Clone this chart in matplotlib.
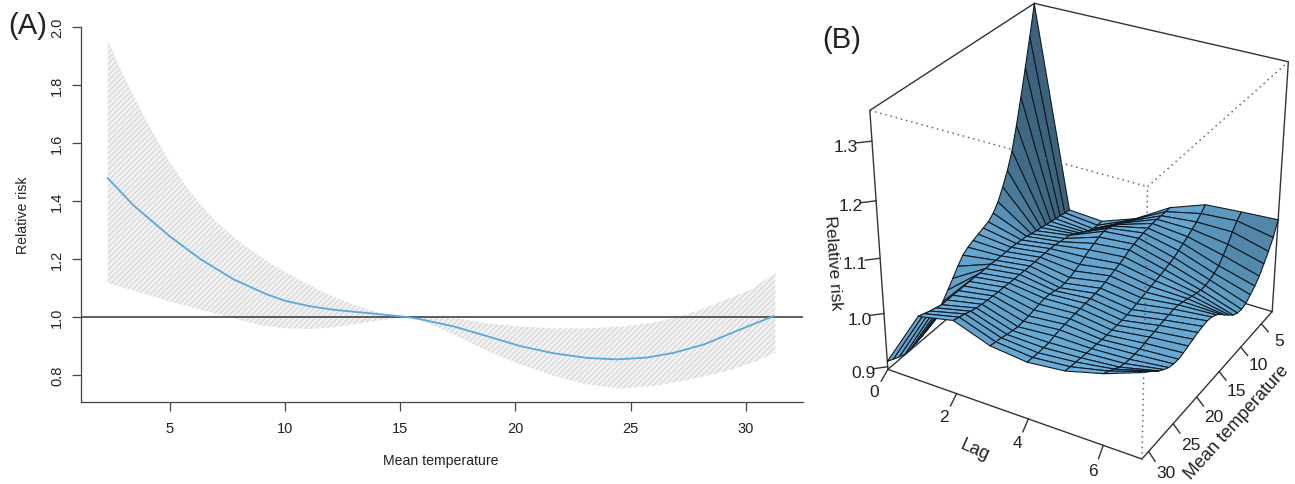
import matplotlib
matplotlib.use("Agg")
import matplotlib.pyplot as plt
from mpl_toolkits.mplot3d import proj3d
import numpy as np

plt.rcParams["font.family"] = ["Liberation Sans", "DejaVu Sans"]
plt.rcParams["hatch.linewidth"] = 0.75

# ── Panel A: overall cumulative curve ─────────────────────────────────────────
temp_mid = [2.3, 3.42, 5.0, 6.32, 7.76, 9.21, 10.0, 11.09, 12.1, 13.55, 15.3,
            15.88, 17.3, 18.77, 20.2, 21.66, 23.1, 24.4, 25.7, 26.9, 28.2, 29.6, 31.2]
rr_mid = [1.479, 1.385, 1.278, 1.200, 1.130, 1.078, 1.056, 1.037, 1.025, 1.014, 1.0,
          0.992, 0.968, 0.934, 0.900, 0.875, 0.859, 0.854, 0.860, 0.877, 0.906, 0.952, 1.003]
temp_high = [2.3, 3.13, 3.86, 4.58, 5.0, 5.74, 6.32, 7.04, 7.76, 8.49, 9.21, 10.0,
             10.65, 11.38, 12.1, 12.82, 13.55, 14.27, 15.3,
             16.0, 17.3, 18.77, 20.2, 21.66, 23.1, 24.55, 26.0, 27.45, 28.9, 30.3, 31.28]
rr_high = [1.953, 1.809, 1.694, 1.591, 1.533, 1.447, 1.388, 1.327, 1.276, 1.232, 1.193, 1.155,
           1.127, 1.097, 1.07, 1.047, 1.028, 1.01, 1.0,
           1.003, 0.998, 0.978, 0.967, 0.961, 0.961, 0.967, 0.98, 1.009, 1.052, 1.098, 1.153]
temp_low = [2.3, 4.87, 7.04, 7.76, 8.92, 10.0, 11.09, 12.1, 13.55, 15.3,
            15.88, 17.3, 18.77, 20.2, 21.66, 23.1, 24.55, 26.0, 27.45, 28.9, 30.3, 31.28]
rr_low = [1.118, 1.056, 1.01, 0.996, 0.972, 0.961, 0.959, 0.964, 0.982, 1.0,
          0.99, 0.94, 0.883, 0.837, 0.797, 0.768, 0.753, 0.762, 0.783, 0.808, 0.843, 0.877]
a_xticks = [5, 10, 15, 20, 25, 30]
a_yticks = [0.8, 1.0, 1.2, 1.4, 1.6, 1.8, 2.0]

# ── Panel B: surface, one row per lag, one column per temperature ─────────────
lags = [0, 1, 2, 3, 4, 5, 6, 7]
temps = [2.3, 3.3, 4.3, 5.3, 6.3, 7.3, 8.3, 9.3, 10.3, 11.3, 12.3, 13.3, 14.3, 15.3, 16.3,
         17.3, 18.3, 19.3, 20.3, 21.3, 22.3, 23.3, 24.3, 25.3, 26.3, 27.3, 28.3, 29.3, 30.3, 31.3]
rr_lag0 = [1.349, 1.297, 1.247, 1.199, 1.153, 1.112, 1.082, 1.058, 1.037, 1.023, 1.014, 1.010, 1.006, 1.002, 0.997,
           0.990, 0.977, 0.962, 0.948, 0.934, 0.922, 0.912, 0.906, 0.902, 0.899, 0.897, 0.896, 0.900, 0.905, 0.910]
rr_lag1 = [0.978, 0.980, 0.982, 0.984, 0.986, 0.988, 0.990, 0.992, 0.994, 0.997, 0.998, 0.999, 1.000, 1.000, 1.000,
           1.000, 1.001, 1.001, 1.001, 1.002, 1.002, 1.002, 1.002, 1.002, 1.002, 1.002, 1.005, 1.008, 1.012, 1.016]
rr_lag2 = [0.974, 0.974, 0.975, 0.979, 0.985, 0.991, 0.997, 1.002, 1.004, 1.006, 1.008, 1.009, 1.009, 1.009, 1.009,
           1.009, 1.009, 1.010, 1.010, 1.011, 1.012, 1.012, 1.013, 1.014, 1.015, 1.017, 1.020, 1.024, 1.027, 1.030]
rr_lag3 = [0.998, 1.003, 1.008, 1.013, 1.018, 1.023, 1.027, 1.029, 1.026, 1.022, 1.018, 1.013, 1.007, 1.003, 0.999,
           0.997, 0.997, 1.000, 1.002, 1.003, 1.001, 0.999, 0.997, 0.996, 0.995, 0.997, 0.999, 1.002, 1.004, 1.006]
rr_lag4 = [1.038, 1.038, 1.038, 1.039, 1.039, 1.038, 1.037, 1.035, 1.032, 1.029, 1.024, 1.020, 1.017, 1.014, 1.011,
           1.008, 1.007, 1.006, 1.006, 1.005, 1.005, 1.004, 1.003, 1.002, 1.000, 0.997, 0.997, 0.997, 0.998, 0.999]
rr_lag5 = [1.062, 1.053, 1.045, 1.039, 1.033, 1.028, 1.023, 1.018, 1.015, 1.012, 1.010, 1.008, 1.006, 1.004, 1.002,
           1.000, 0.998, 0.997, 0.996, 0.996, 0.996, 0.996, 0.997, 0.998, 0.999, 1.000, 1.001, 1.003, 1.004, 1.006]
rr_lag6 = [1.067, 1.058, 1.045, 1.030, 1.017, 1.006, 1.000, 0.996, 0.994, 0.994, 0.997, 1.000, 1.004, 1.007, 1.010,
           1.011, 1.010, 1.009, 1.008, 1.006, 1.005, 1.003, 1.002, 1.002, 1.002, 1.004, 1.007, 1.013, 1.019, 1.024]
rr_lag7 = [1.071, 1.046, 1.028, 1.013, 0.998, 0.988, 0.980, 0.973, 0.970, 0.972, 0.977, 0.986, 0.995, 1.005, 1.013,
           1.018, 1.020, 1.019, 1.017, 1.014, 1.011, 1.008, 1.006, 1.007, 1.010, 1.016, 1.023, 1.032, 1.041, 1.049]
b_lag_ticks = [0, 2, 4, 6]
b_temp_ticks = [5, 10, 15, 20, 25, 30]
b_rr_ticks = [0.9, 1.0, 1.1, 1.2, 1.3]

fig = plt.figure(figsize=(12.95, 4.85), dpi=100)

# ── Panel A ───────────────────────────────────────────────────────────────────
ax = fig.add_axes([81 / 1295, 1 - 403 / 485, (802.7 - 81) / 1295, (403 - 28) / 485])
ax.fill(temp_high + temp_low[::-1], rr_high + rr_low[::-1], facecolor="#f1f1f1",
        edgecolor="#d4d4d4", hatch="//////", linewidth=0)
ax.axhline(1.0, color="#333333", linewidth=1.1)
ax.plot(temp_mid, rr_mid, color="#5aa9d8", linewidth=1.3)
ax.set_xlim(1.14, 32.47)
ax.set_ylim(0.707, 2.0)
ax.set_xticks(a_xticks)
ax.set_yticks(a_yticks)
ax.tick_params(length=6.5, width=0.9, color="#444444", labelsize=10.5, labelcolor="#222222")
ax.tick_params(axis="x", pad=7)
ax.tick_params(axis="y", labelrotation=90, pad=5.5)
for lab in ax.get_yticklabels():
    lab.set_va("center")
ax.spines[["top", "right"]].set_visible(False)
ax.spines[["left", "bottom"]].set_color("#444444")
ax.spines[["left", "bottom"]].set_linewidth(0.9)
fig.text(441 / 1295, 1 - 461 / 485, "Mean temperature", fontsize=10.2, color="#222222", ha="center", va="center")
fig.text(23 / 1295, 1 - 215 / 485, "Relative risk", fontsize=10.2, color="#222222", rotation=90, ha="center", va="center")
fig.text(28 / 1295, 1 - 26 / 485, "(A)", fontsize=21, color="#222222", ha="center", va="center")
fig.text(842 / 1295, 1 - 40 / 485, "(B)", fontsize=21, color="#222222", ha="center", va="center")

# ── Panel B ───────────────────────────────────────────────────────────────────
ax3 = fig.add_axes([921.28 / 1295, 102.33 / 485, 318.8 / 1295, 318.8 / 485], projection="3d")
ax3.computed_zorder = False
ax3.view_init(30, -60, 0)
ax3.set_box_aspect((1, 1, 1), zoom=1.546)
lag_lo, lag_hi = 0, 7
t_lo, t_hi = 31.3, 2.3
rr_lo, rr_hi = 0.895, 1.35
ax3.set_xlim(lag_lo, lag_hi)
ax3.set_ylim(t_lo, t_hi)
ax3.set_zlim(rr_lo, rr_hi)
ax3.set_axis_off()

LAG, TEMP = np.meshgrid(lags, temps, indexing="ij")
RR = np.array([rr_lag0, rr_lag1, rr_lag2, rr_lag3, rr_lag4, rr_lag5, rr_lag6, rr_lag7])

# shade from facet normals in box units, same rule as persp(shade=)
ux = (LAG - lag_lo) / (lag_hi - lag_lo)
uy = (TEMP - t_lo) / (t_hi - t_lo)
uz = (RR - rr_lo) / (rr_hi - rr_lo)
d1 = np.stack([ux[1:, 1:] - ux[:-1, :-1], uy[1:, 1:] - uy[:-1, :-1], uz[1:, 1:] - uz[:-1, :-1]], axis=-1)
d2 = np.stack([ux[1:, :-1] - ux[:-1, 1:], uy[1:, :-1] - uy[:-1, 1:], uz[1:, :-1] - uz[:-1, 1:]], axis=-1)
normal = np.cross(d2, d1)
normal *= np.sign(normal[..., 2:3])
normal /= np.linalg.norm(normal, axis=-1, keepdims=True)
light = np.array([-0.35, 0.35, 0.87])
light /= np.linalg.norm(light)
factor = 0.3 + 0.7 * (normal @ light + 1) / 2
base = np.array(matplotlib.colors.to_rgb("#6cb2de"))
facecolors = np.clip(factor[..., None] * base, 0, 1)


def line3(lag, temp, rr, **kw):
    ax3.plot(lag, temp, rr, clip_on=False, **kw)


def label3(lag, temp, rr, s):
    # tick labels sit outside the box, so place them in the projected plane
    px, py, _ = proj3d.proj_transform(lag, temp, rr, ax3.get_proj())
    ax3.text2D(px, py, s, transform=ax3.transData, fontsize=12.5, color="#222222", ha="center", va="center")


solid = dict(color="#333333", linewidth=1.0, zorder=1)
dots = dict(color="#666666", linewidth=1.1, linestyle=(0, (1, 2.5)), zorder=3)
# back and outer edges of the box
line3([0, 7], [t_lo, t_lo], [rr_lo, rr_lo], **solid)
line3([7, 7], [t_lo, t_hi], [rr_lo, rr_lo], **solid)
line3([0, 0], [t_lo, t_hi], [rr_lo, rr_lo], **solid)
line3([0, 7], [t_hi, t_hi], [rr_lo, rr_lo], **solid)
line3([0, 0], [t_lo, t_lo], [rr_lo, rr_hi], **solid)
line3([7, 7], [t_hi, t_hi], [rr_lo, rr_hi], **solid)
line3([0, 0], [t_hi, t_hi], [rr_lo, rr_hi], **solid)
line3([0, 0], [t_lo, t_hi], [rr_hi, rr_hi], **solid)
line3([0, 7], [t_hi, t_hi], [rr_hi, rr_hi], **solid)

ax3.plot_surface(LAG, TEMP, RR, facecolors=facecolors, shade=False, rstride=1, cstride=1,
                 edgecolor="#111a22", linewidth=0.8, antialiased=True, clip_on=False, zorder=2)

# front edges of the box, dotted over the surface
line3([0, 7], [t_lo, t_lo], [rr_hi, rr_hi], **dots)
line3([7, 7], [t_lo, t_hi], [rr_hi, rr_hi], **dots)
line3([7, 7], [t_lo, t_lo], [rr_lo, rr_hi], **dots)

tick = dict(color="#333333", linewidth=1.0, zorder=1)
for v in b_lag_ticks:
    line3([v, v + 0.15], [t_lo, t_lo + 2], [rr_lo, rr_lo], **tick)
    label3(v + 0.25, t_lo + 3.7, rr_lo, str(v))
for v in b_temp_ticks:
    line3([7, 7.3], [v, v + 1], [rr_lo, rr_lo], **tick)
    label3(7.7, v + 2, rr_lo, str(v))
for v in b_rr_ticks:
    line3([0, -0.25], [t_lo, t_lo + 1], [v, v], **tick)
    label3(-0.36, t_lo + 2, v, f"{v:.1f}")

fig.text(833 / 1295, 1 - 263 / 485, "Relative risk", fontsize=12.5, color="#222222", rotation=-86, ha="center", va="center")
fig.text(975 / 1295, 1 - 450 / 485, "Lag", fontsize=13, color="#222222", rotation=-24, ha="center", va="center")
fig.text(1236.7 / 1295, 1 - 423 / 485, "Mean temperature", fontsize=13, color="#222222", rotation=48, ha="center", va="center")

fig.savefig("out.png", dpi=100)
